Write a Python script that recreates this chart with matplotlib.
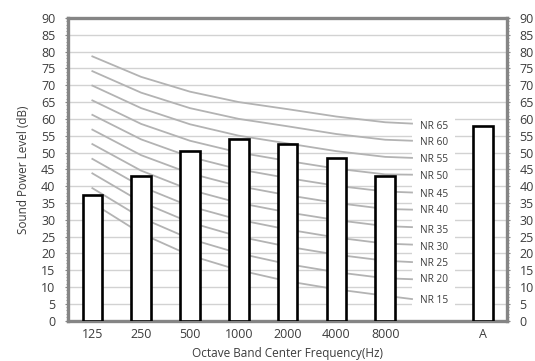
"""Sound power level per octave band, with NR reference curves behind the bars."""

import matplotlib

matplotlib.use("Agg")
import matplotlib.pyplot as plt  # noqa: E402
from matplotlib.patches import Rectangle  # noqa: E402

bands = ["125", "250", "500", "1000", "2000", "4000", "8000", "", "A"]
levels = [37.5, 43.0, 50.5, 54.0, 52.5, 48.5, 43.0, None, 58.0]

nr_names = ["NR 15", "NR 20", "NR 25", "NR 30", "NR 35", "NR 40",
            "NR 45", "NR 50", "NR 55", "NR 60", "NR 65"]
# NR curve values at 125..8000 Hz, plus the point where each line meets its label
nr_curves = [
    [35.0, 25.9, 19.4, 15.0, 11.7, 9.3, 7.4, 6.4],
    [39.4, 30.6, 24.3, 20.0, 16.8, 14.4, 12.6, 12.3],
    [43.8, 35.3, 29.2, 25.0, 22.0, 19.6, 17.8, 17.4],
    [48.1, 39.9, 34.0, 30.0, 27.1, 24.7, 22.9, 22.6],
    [52.5, 44.6, 38.9, 35.0, 32.2, 29.9, 28.1, 27.8],
    [56.8, 49.2, 43.8, 40.0, 37.3, 35.0, 33.2, 33.0],
    [61.2, 53.9, 48.7, 45.0, 42.4, 40.1, 38.4, 38.1],
    [65.5, 58.5, 53.5, 50.0, 47.5, 45.2, 43.5, 43.4],
    [69.9, 63.2, 58.4, 55.0, 52.7, 50.4, 48.7, 48.4],
    [74.2, 67.8, 63.2, 60.0, 57.8, 55.5, 53.8, 53.5],
    [78.6, 72.5, 68.1, 65.0, 62.9, 60.7, 59.0, 58.6],
]
nr_label_y = [5.9, 12.1, 17.0, 21.8, 26.7, 32.6, 37.5, 42.8, 47.8, 53.0, 57.8]
curve_x = [0, 1, 2, 3, 4, 5, 6, 6.55]

plt.rcParams["font.family"] = ["Open Sans", "DejaVu Sans"]
text_col = "#3c3c3c"
frame_col = "#858585"

fig = plt.figure(figsize=(5.35, 3.61), dpi=100)
ax = fig.add_axes([0.127, 0.112, 0.821, 0.838])

ax.set_xlim(-0.5, len(bands) - 0.5)
ax.set_ylim(0, 90)
ax.set_yticks(range(0, 91, 5))
ax.set_yticks(range(0, 91, 1), minor=True)
ax.set_xticks(range(len(bands)))
ax.set_xticklabels(bands)
ax.grid(axis="y", color="#d2d2d2", lw=1.0, zorder=0)
ax.set_axisbelow(True)

# blank column where the curve labels sit
ax.add_patch(Rectangle((6.55, 0.3), 0.88, 61, facecolor="white",
                       edgecolor="none", zorder=1))

for vals, name, ly in zip(nr_curves, nr_names, nr_label_y):
    ax.plot(curve_x, vals, color="#b3b3b3", lw=1.3, zorder=2)
    ax.text(7, ly, name, ha="center", va="center", fontsize=7.3,
            color=text_col, zorder=3)

for i, v in enumerate(levels):
    if v is None:
        continue
    ax.bar(i, v, width=0.4, facecolor="white", edgecolor="black",
           lw=1.9, zorder=4)

for side in ("left", "right", "top", "bottom"):
    ax.spines[side].set_color(frame_col)
    ax.spines[side].set_linewidth(2.4)

ax.tick_params(axis="y", which="both", left=True, right=True,
               labelleft=True, labelright=True, color=frame_col)
ax.tick_params(axis="y", which="major", length=2, pad=7,
               labelsize=9, labelcolor=text_col)
ax.tick_params(axis="y", which="minor", length=1.2, width=0.6)
ax.tick_params(axis="x", length=0, pad=5, labelsize=9, labelcolor=text_col)

ax.set_ylabel("Sound Power Level (dB)", fontsize=8.5, color=text_col,
              labelpad=8)
ax.set_xlabel("Octave Band Center Frequency(Hz)", fontsize=8.5,
              color=text_col, labelpad=5)

fig.savefig("out.png", dpi=100)
plt.close(fig)
